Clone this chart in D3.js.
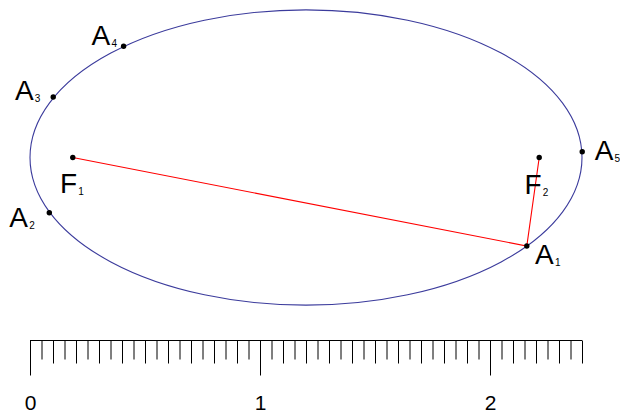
<!DOCTYPE html>
<html>
<head>
<meta charset="utf-8">
<script src="https://cdn.jsdelivr.net/npm/d3@7"></script>
<style>
  html, body { margin: 0; padding: 0; background: #fff; }
  svg { display: block; font-family: "Liberation Sans", Arial, sans-serif; }
</style>
</head>
<body>
<svg id="chart" width="620" height="419"></svg>
<script>
// ---- data (units of the ruler) ----
const ellipseCenter = [1.2, 0];
const ellipseAxes = [1.2, 0.642];           // semi-major, semi-minor
const fociNames = ["F", "F"];
const fociSubs = ["1", "2"];
const fociX = [0.186, 2.214];
const fociY = [0, 0];
const pointNames = ["A", "A", "A", "A", "A"];
const pointSubs = ["1", "2", "3", "4", "5"];
const pointX = [2.160, 0.084, 0.101, 0.407, 2.401];
const pointY = [-0.385, -0.240, 0.263, 0.4835, 0.025];
const rulerMax = 2.4;
const rulerStep = 0.05;
const rulerLabels = ["0", "1", "2"];

// ---- layout ----
const svg = d3.select("#chart");
const x = d3.scaleLinear().domain([0, 1]).range([30, 260]);
const y = d3.scaleLinear().domain([0, 1]).range([157.5, 157.5 - 230]);
const k = x(1) - x(0);

// label offsets (pixels) relative to marker
const pointLabelOffset = [[8.3, 17.7], [-40, 14.6], [-38.3, 3], [-32, -1.3], [12.5, 8.3]];
const fociLabelOffset = [[-12.8, 35.6], [-14.8, 36]];

// ellipse
svg.append("ellipse")
  .attr("cx", x(ellipseCenter[0]))
  .attr("cy", y(ellipseCenter[1]))
  .attr("rx", ellipseAxes[0] * k)
  .attr("ry", ellipseAxes[1] * k)
  .attr("fill", "none")
  .attr("stroke", "#3b3b9c")
  .attr("stroke-width", 1.1);

// red segments F1 -> A1 -> F2
const line = d3.line().x(d => x(d[0])).y(d => y(d[1]));
svg.append("path")
  .attr("d", line([[fociX[0], fociY[0]], [pointX[0], pointY[0]], [fociX[1], fociY[1]]]))
  .attr("fill", "none")
  .attr("stroke", "#ff0000")
  .attr("stroke-width", 1.1);

// dots
const allDots = fociX.map((v, i) => [v, fociY[i]]).concat(pointX.map((v, i) => [v, pointY[i]]));
svg.selectAll("circle.dot").data(allDots).enter().append("circle")
  .attr("class", "dot")
  .attr("cx", d => x(d[0])).attr("cy", d => y(d[1]))
  .attr("r", 2.7).attr("fill", "#000");

function addLabel(px, py, main, sub) {
  const t = svg.append("text").attr("x", px).attr("y", py)
    .style("font-size", "28px").attr("fill", "#000");
  t.append("tspan").text(main);
  t.append("tspan").style("font-size", "10px").attr("dx", 1.2).attr("dy", 2).text(sub);
}
pointX.forEach((v, i) => {
  addLabel(x(v) + pointLabelOffset[i][0], y(pointY[i]) + pointLabelOffset[i][1], pointNames[i], pointSubs[i]);
});
fociX.forEach((v, i) => {
  addLabel(x(v) + fociLabelOffset[i][0], y(fociY[i]) + fociLabelOffset[i][1], fociNames[i], fociSubs[i]);
});

// ruler
const rulerY = 340.5;
const ticksAll = d3.range(0, Math.round(rulerMax / rulerStep) + 1).map(i => +(i * rulerStep).toFixed(2));
const major = ticksAll.filter(v => Math.abs(v - Math.round(v)) < 1e-9);
const medium = ticksAll.filter(v => !major.includes(v) && Math.abs(v * 10 - Math.round(v * 10)) < 1e-9);
const minor = ticksAll.filter(v => !major.includes(v) && !medium.includes(v));

const g = svg.append("g").attr("transform", `translate(0,${rulerY})`);
g.append("line").attr("x1", x(0)).attr("x2", x(rulerMax)).attr("y1", 0).attr("y2", 0)
  .attr("stroke", "#000").attr("stroke-width", 1);

function tickAxis(vals, size, labels) {
  const ax = d3.axisBottom(x).tickValues(vals).tickSizeInner(size).tickSizeOuter(0)
    .tickPadding(20).tickFormat(labels ? ((d, i) => labels[i]) : () => "");
  const ag = g.append("g").call(ax);
  ag.select(".domain").remove();
  ag.selectAll("line").attr("stroke", "#000");
  ag.selectAll("text").style("font-size", "21px").attr("fill", "#000")
    .style("font-family", '"Liberation Sans", Arial, sans-serif');
  return ag;
}
tickAxis(minor, 19, null);
tickAxis(medium, 23, null);
tickAxis(major, 35, rulerLabels);
</script>
</body>
</html>
